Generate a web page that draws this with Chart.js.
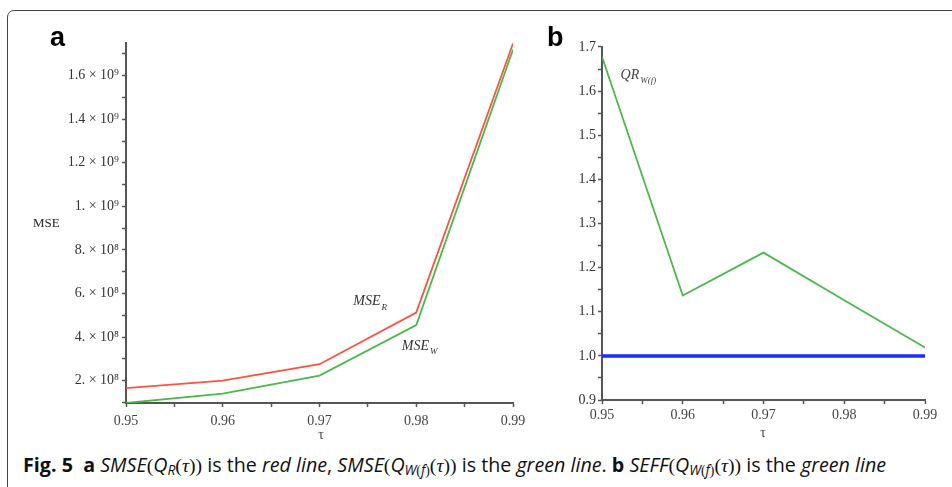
<!DOCTYPE html>
<html><head><meta charset="utf-8">
<script src="https://cdn.jsdelivr.net/npm/chart.js@4/dist/chart.umd.min.js"></script>
<style>
html,body{margin:0;padding:0;background:#fff;width:952px;height:487px;overflow:hidden;position:relative;}
#frame{position:absolute;left:7px;top:10px;width:980px;height:500px;border:1.5px solid #444;border-radius:7px;box-sizing:border-box;}
#ca{position:absolute;left:0;top:0;}
#cb{position:absolute;left:530px;top:0;}
.lab{position:absolute;font-family:"Liberation Sans",Arial,sans-serif;font-weight:bold;font-size:27px;color:#000;}
#cap{position:absolute;left:23px;top:451px;font-family:"Open Sans",sans-serif;font-size:19.7px;color:#111;white-space:nowrap;line-height:28px;}
#cap i{font-style:italic;}
#cap .m{font-family:"Liberation Serif",serif;font-style:normal;}
#cap sub{font-size:70%;vertical-align:-0.25em;line-height:0;}
</style></head><body>
<div id="frame"></div>
<canvas id="ca" width="540" height="445"></canvas>
<canvas id="cb" width="422" height="445"></canvas>
<div class="lab" style="left:50px;top:22px;">a</div>
<div class="lab" style="left:547px;top:22px;">b</div>
<div id="cap"><b>Fig. 5</b>&nbsp; <b>a</b> <i>SMSE</i><span class="m">(</span><i>Q<sub>R</sub></i><span class="m">(<i>τ</i>))</span> is the <i>red line</i>, <i>SMSE</i><span class="m">(</span><i>Q<sub>W</sub></i><sub><span class="m">(</span><i>f</i><span class="m">)</span></sub><span class="m">(<i>τ</i>))</span> is the <i>green line</i>. <b>b</b> <i>SEFF</i><span class="m">(</span><i>Q<sub>W</sub></i><sub><span class="m">(</span><i>f</i><span class="m">)</span></sub><span class="m">(<i>τ</i>))</span> is the <i>green line</i></div>
<script>
const tau = [0.95, 0.96, 0.97, 0.98, 0.99];
const mseR = [1.65e8, 2.0e8, 2.75e8, 5.12e8, 1.748e9];
const mseW = [0.97e8, 1.4e8, 2.23e8, 4.55e8, 1.72e9];
const qrW = [1.678, 1.137, 1.234, 1.126, 1.019];
const refLine = [1, 1, 1, 1, 1];
const xTickLabels = ['0.95', '0.96', '0.97', '0.98', '0.99'];

const SERIF = '"Liberation Serif","DejaVu Serif",serif';
const pts = (xs, ys) => xs.map((x, i) => ({x: x, y: ys[i]}));
const sup = {'8': '\u2078', '9': '\u2079'};

function fmtA(v) {
  const e = v >= 1e9 ? 9 : 8;
  const m = Math.round(v / Math.pow(10, e) * 10) / 10;
  const ms = Number.isInteger(m) ? m + '.' : m.toString();
  return ms + ' \u00d7 10' + sup[String(e)];
}

const textPlugin = {
  id: 'texts',
  afterDraw(chart, args, opts) {
    const ctx = chart.ctx;
    ctx.save();
    (opts.items || []).forEach(it => {
      let px, py;
      if (it.data) {
        px = chart.scales.x.getPixelForValue(it.x);
        py = chart.scales.y.getPixelForValue(it.y);
      } else { px = it.x; py = it.y; }
      ctx.fillStyle = it.color || '#333';
      ctx.font = (it.italic ? 'italic ' : '') + it.size + 'px ' + SERIF;
      ctx.textBaseline = 'alphabetic';
      ctx.textAlign = it.align || 'left';
      ctx.fillText(it.text, px, py);
      if (it.sub) {
        const w = ctx.measureText(it.text).width;
        ctx.font = 'italic ' + Math.round(it.size * 0.62) + 'px ' + SERIF;
        ctx.textAlign = 'left';
        ctx.fillText(it.sub, px + w + 1, py + it.size * 0.3);
      }
    });
    ctx.restore();
  }
};

// place ticks at whole multiples of the step inside [min, max]
const stepTicks = step => s => {
  const out = [];
  const k0 = Math.ceil(s.min / step - 1e-6), k1 = Math.floor(s.max / step + 1e-6);
  for (let k = k0; k <= k1; k++) out.push({value: k * step});
  s.ticks = out;
};

function xScale(chartH, pad) {
  return {
    type: 'linear', min: 0.95, max: 0.99, bounds: 'data',
    border: {display: true, color: '#555', width: 2},
    grid: {drawOnChartArea: false, drawTicks: true, tickLength: 4, tickColor: '#555', tickWidth: 1.5},
    ticks: {
      autoSkip: false, maxRotation: 0, padding: pad,
      color: '#444', font: {family: SERIF, size: 14},
      callback: (v) => {
        const k = Math.round(v * 1000);
        if (k % 10 !== 0) return '';
        return xTickLabels[Math.round((k - 950) / 10)];
      }
    },
    afterBuildTicks: stepTicks(0.005),
    afterFit: s => { s.height = chartH; }
  };
}

const chartA = new Chart(document.getElementById('ca'), {
  type: 'line',
  data: {datasets: [
    {data: pts(tau, mseR), borderColor: '#ff5040', borderWidth: 1.8, pointRadius: 0, tension: 0},
    {data: pts(tau, mseW), borderColor: '#4cb84c', borderWidth: 1.8, pointRadius: 0, tension: 0}
  ]},
  options: {
    responsive: false, animation: false,
    layout: {padding: {top: 43, right: 27, left: 0, bottom: 0}},
    plugins: {legend: {display: false}, tooltip: {enabled: false},
      texts: {items: [
        {data: true, x: 0.9735, y: 5.45e8, text: 'MSE', sub: 'R', italic: true, size: 14, color: '#333'},
        {data: true, x: 0.9785, y: 3.4e8, text: 'MSE', sub: 'W', italic: true, size: 14, color: '#333'},
        {x: 33, y: 227, text: 'MSE', size: 13, color: '#222'},
        {x: 321, y: 439, text: '\u03c4', size: 14, color: '#444', align: 'center'}
      ]}
    },
    scales: {
      x: xScale(42, 6),
      y: {
        type: 'linear', min: 0.97e8, max: 1.75e9, bounds: 'data',
        border: {display: true, color: '#555', width: 2},
        grid: {drawOnChartArea: false, drawTicks: true, tickLength: 4, tickColor: '#555', tickWidth: 1.5},
        ticks: {
          autoSkip: false, padding: 3,
          color: '#333', font: {family: SERIF, size: 14},
          callback: (v) => {
            const k = Math.round(v / 1e8);
            if (k % 2 !== 0 || k < 2) return '';
            return fmtA(k * 1e8);
          }
        },
        afterBuildTicks: stepTicks(1e8),
        afterFit: s => { s.width = 126; }
      }
    }
  },
  plugins: [textPlugin]
});

const chartB = new Chart(document.getElementById('cb'), {
  type: 'line',
  data: {datasets: [
    {data: pts(tau, refLine), borderColor: '#1a2cff', borderWidth: 3.5, pointRadius: 0, tension: 0},
    {data: pts(tau, qrW), borderColor: '#4cb84c', borderWidth: 1.8, pointRadius: 0, tension: 0}
  ]},
  options: {
    responsive: false, animation: false,
    layout: {padding: {top: 47, right: 27, left: 0, bottom: 0}},
    plugins: {legend: {display: false}, tooltip: {enabled: false},
      texts: {items: [
        {data: true, x: 0.9523, y: 1.627, text: 'QR', sub: 'W(f)', italic: true, size: 14, color: '#444'},
        {x: 233, y: 437, text: '\u03c4', size: 14, color: '#444', align: 'center'}
      ]}
    },
    scales: {
      x: xScale(45, 3),
      y: {
        type: 'linear', min: 0.9, max: 1.7, bounds: 'data',
        border: {display: true, color: '#555', width: 2},
        grid: {drawOnChartArea: false, drawTicks: true, tickLength: 4, tickColor: '#555', tickWidth: 1.5},
        ticks: {
          autoSkip: false, padding: 2,
          color: '#333', font: {family: SERIF, size: 14},
          callback: (v) => {
            const k = Math.round(v * 100);
            if (k % 10 !== 0) return '';
            return (k / 100).toFixed(1);
          }
        },
        afterBuildTicks: stepTicks(0.05),
        afterFit: s => { s.width = 72; }
      }
    }
  },
  plugins: [textPlugin]
});
</script>
</body></html>
